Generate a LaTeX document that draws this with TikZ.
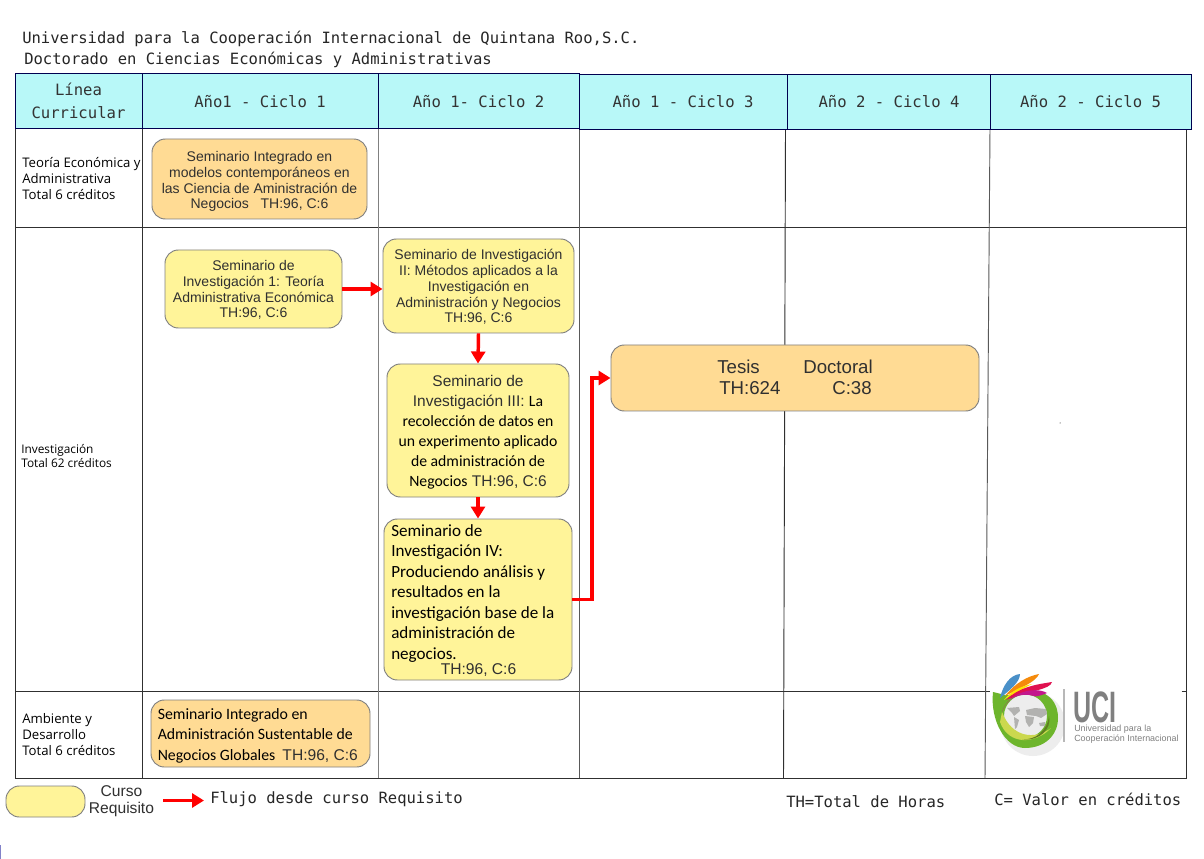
\documentclass[tikz,border=0pt]{standalone}
\usepackage{fontspec}
\setmainfont{Liberation Sans}
\newfontfamily\cali{Carlito}
\newfontfamily\mono{DejaVu Sans Mono}
\newfontfamily\luci{Open Sans}
\usetikzlibrary{arrows.meta}
\definecolor{hdr}{HTML}{B8F8F8}
\definecolor{navy}{HTML}{000050}
\definecolor{yel}{HTML}{FFF499}
\definecolor{ora}{HTML}{FFDB94}
\definecolor{edge}{HTML}{808080}
\definecolor{grid}{HTML}{303030}
\definecolor{txt}{HTML}{303030}
\definecolor{leaf}{HTML}{6DB52C}
\definecolor{lime}{HTML}{CBD84E}
\definecolor{olive}{HTML}{5F7F20}
\definecolor{fblue}{HTML}{4A90C8}
\definecolor{forange}{HTML}{F58A0B}
\definecolor{fred}{HTML}{E0104F}
\definecolor{fmag}{HTML}{C2188C}
\definecolor{mapg}{HTML}{B2B2B0}
\tikzset{
 x=0.75pt,y=-0.75pt,
 hcell/.style={draw=navy,fill=hdr,line width=0.75pt,inner sep=0pt,align=center,text=black!80,font=\mono\fontsize{11.7}{17}\selectfont},
 course/.style={draw=edge,line width=0.7pt,rounded corners=10pt,inner sep=0pt,align=center,text=txt,font=\fontsize{10.5}{11.8}\selectfont},
 gridline/.style={draw=grid,line width=0.7pt},
 flow/.style={draw=red,line width=2.6pt,-{Triangle[length=9pt,width=10.5pt]}},
 rowlabel/.style={inner sep=0pt,anchor=north west,align=left,text=black,font=\luci\fontsize{9.9}{11.9}\selectfont},
 monotext/.style={inner sep=0pt,anchor=west,text=black!85,font=\mono\fontsize{11.65}{14}\selectfont},
}
\newcommand{\cc}{\cali\fontsize{11.8}{15}\selectfont\color{black}}
\newcommand{\dn}[1]{\rule{0pt}{#1pt}}
\begin{document}
\begin{tikzpicture}
\useasboundingbox (0,0) rectangle (1204,859);
\fill[white] (0,0) rectangle (1204,859);
% titles
\node[monotext] (t1) at (22,38.5) {Universidad para la Cooperación Internacional de Quintana Roo,S.C.};
\node[monotext] (t2) at (24,60) {Doctorado en Ciencias Económicas y Administrativas};
% grid
\draw[gridline] (15,129) -- (15,778) -- (1186,778) -- (1186,129);
\draw[gridline] (15,227.5) -- (1186,227.5);
\draw[gridline] (15,691.5) -- (1186,691.5);
\draw[gridline] (142,129) -- (142,778);
\draw[gridline,edge] (378,129) -- (378,778);
\draw[gridline,black!65] (579,129) -- (579,778);
\draw[gridline] (785.5,129) -- (783.5,778);
\draw[gridline,black!65] (990,129) -- (985,778);
% header
\node[hcell,minimum width=127pt*0.75,minimum height=55pt*0.75] (h0) at (78.5,101) {Línea\\Curricular};
\node[hcell,minimum width=236pt*0.75,minimum height=55pt*0.75] (h1) at (260,101.5) {Año1 - Ciclo 1};
\node[hcell,minimum width=201pt*0.75,minimum height=55pt*0.75] (h2) at (478.5,101.5) {Año 1- Ciclo 2};
\node[hcell,minimum width=208pt*0.75,minimum height=55pt*0.75] (h3) at (683,102) {Año 1 - Ciclo 3};
\node[hcell,minimum width=203pt*0.75,minimum height=55pt*0.75] (h4) at (889,102) {Año 2 - Ciclo 4};
\node[hcell,minimum width=201pt*0.75,minimum height=55pt*0.75] (h5) at (1090.5,102) {Año 2 - Ciclo 5};
% row labels
\node[rowlabel] (r1) at (22,157.5) {Teoría Económica y\\Administrativa\\Total 6 créditos};
\node[rowlabel,font=\luci\fontsize{8.9}{10.4}\selectfont] (r2) at (21,444.5) {Investigación\\Total 62 créditos};
\node[rowlabel] (r3) at (22,713.5) {Ambiente y\\Desarrollo\\Total 6 créditos};
% courses
\node[course,fill=ora,minimum width=161.25pt,minimum height=60pt] (c1) at (259.5,179)
 {\dn{11.4}Seminario Integrado en\\modelos contemporáneos en\\las Ciencia de Aministración de\\Negocios\ \ \ TH:96, C:6};
\node[course,fill=yel,minimum width=132.75pt,minimum height=58.5pt] (y1) at (253.5,289)
 {\dn{9.4}Seminario de\\Investigación 1: Teoría\\Administrativa Económica\\TH:96, C:6};
\node[course,fill=yel,minimum width=143.25pt,minimum height=70.5pt] (y2) at (478.5,286)
 {\dn{9.4}Seminario de Investigación\\II: Métodos aplicados a la\\Investigación en\\Administración y Negocios\\TH:96, C:6};
\node[course,fill=yel,minimum width=136.5pt,minimum height=99.75pt,font=\fontsize{11.6}{15}\selectfont] (y3) at (478,430.5)
 {\dn{11.4}Seminario de\\Investigación III: {\cc La}\\{\cc recolección de datos en}\\{\cc un experimento aplicado}\\{\cc de administración de}\\{\cc Negocios} TH:96, C:6};
\node[course,fill=yel,minimum width=141pt,minimum height=120.75pt] (y4) at (478,599.5) {};
\node[inner sep=0pt,anchor=north west,align=left,text=black,font=\cali\fontsize{12.8}{15.4}\selectfont] (y4t) at (391,524)
 {Seminario de\\Investigación IV:\\Produciendo análisis y\\resultados en la\\investigación base de la\\administración de\\negocios.};
\node[inner sep=0pt,text=txt,font=\fontsize{11.7}{12}\selectfont] (y4h) at (478.5,670) {TH:96, C:6};
\node[course,fill=ora,minimum width=276pt,minimum height=49.5pt] (th) at (795,378) {};
\node[inner sep=0pt,text=txt,font=\fontsize{14}{15}\selectfont,anchor=base west] (th1) at (717,374) {Tesis};
\node[inner sep=0pt,text=txt,font=\fontsize{14}{15}\selectfont,anchor=base west] (th2) at (803,374) {Doctoral};
\node[inner sep=0pt,text=txt,font=\fontsize{14}{15}\selectfont,anchor=base west] (th3) at (719,395) {TH:624};
\node[inner sep=0pt,text=txt,font=\fontsize{14}{15}\selectfont,anchor=base west] (th4) at (832,395) {C:38};
\node[course,fill=ora,minimum width=164.25pt,minimum height=50.25pt] (c2) at (260.5,733.5) {};
\node[inner sep=0pt,anchor=north west,align=left,text=black,font=\cali\fontsize{11.85}{15.5}\selectfont] (c2t) at (157.5,708)
 {Seminario Integrado en\\Administración Sustentable de\\Negocios Globales\ \ {\rmfamily\color{txt}\fontsize{11.7}{15.5}\selectfont TH:96, C:6}};
% connectors
\coordinate (y2in) at (y1.east -| y2.west);
\coordinate (bend) at (592,599.5);
\draw[flow] (y1.east) -- (y2in);
\draw[flow] (y2.south) -- (y3.north);
\draw[flow] (y3.south) -- (y4.north);
\draw[flow] (y4.east) -- (bend) |- (th.west);
% legend
\node[course,fill=yel,minimum width=59.25pt,minimum height=23.25pt] (lg) at (45.5,801.5) {};
\node[inner sep=0pt,align=center,text=txt,font=\fontsize{11.7}{12.8}\selectfont] (lgt) at (121.5,801.5) {Curso\\Requisito};
\coordinate (fa) at (163,800.5);
\coordinate (fb) at (204,800.5);
\draw[flow] (fa) -- (fb);
\node[monotext] (l1) at (210,799.5) {Flujo desde curso Requisito};
\node[monotext] (l2) at (786,801.5) {TH=Total de Horas};
\node[monotext] (l3) at (994,799.5) {C= Valor en créditos};
% logo
\fill[white] (990,648) rectangle (1181.5,775);
\draw[gridline] (1181.5,691.5) -- (1186,691.5);
\fill[black!14] (1031,722) circle (31);
\fill[black!7] (1033,724) circle (32);
% ring
\fill[leaf,even odd rule] (993,692) .. controls (990,720) and (1005,748) .. (1025,748) .. controls (1045,748) and (1058,735) .. (1058,718) .. controls (1058,705) and (1052,698) .. (1045,694) -- (1005,695) -- cycle (1025.5,716) circle (21.5);
\fill[lime] (1000,722) .. controls (1008,745) and (1035,745) .. (1051,728) .. controls (1035,740) and (1012,738) .. (1002,712) -- cycle;
\fill[olive] (1022,739) .. controls (1035,741) and (1048,730) .. (1049,716) .. controls (1052,728) and (1040,742) .. (1022,739) -- cycle;
% feathers
\fill[fblue] (1000,698) .. controls (1003,685) and (1010,675) .. (1020,674) .. controls (1020,682) and (1010,690) .. (1000,698) -- cycle;
\fill[forange] (1005,696) .. controls (1015,683) and (1028,676) .. (1039,674) .. controls (1036,682) and (1020,688) .. (1005,696) -- cycle;
\fill[yellow!85!orange] (1004,700) .. controls (1012,690) and (1022,686) .. (1032,684) -- (1010,696) -- cycle;
\fill[fred] (1006,700) .. controls (1020,686) and (1040,684) .. (1052,682) .. controls (1050,690) and (1030,690) .. (1006,700) -- cycle;
\fill[fmag] (1002,712) .. controls (1008,692) and (1035,686) .. (1047,693) .. controls (1040,696) and (1035,697) .. (1034,696) .. controls (1020,692) and (1006,698) .. (1002,712) -- cycle;
% map
\fill[mapg] (1007,708) -- (1019,707) -- (1020,711) -- (1014,716) -- (1012,713) -- cycle;
\fill[mapg] (1014,717) -- (1019,720) -- (1017,727) -- (1015,729) -- cycle;
\fill[mapg] (1026,710) -- (1035,708) -- (1046,709) -- (1047,714) -- (1041,718) -- (1036,716) -- (1027,715) -- cycle;
\fill[mapg] (1025,716) -- (1034,717) -- (1033,723) -- (1029,727) -- (1026,722) -- cycle;
\fill[mapg] (1039,723) -- (1045,722) -- (1045,726) -- (1040,726) -- cycle;
\draw[black!28,line width=1pt] (1064,689) -- (1064,742);
\node[inner sep=0pt,anchor=base west,text=black!50,font=\bfseries\fontsize{33}{33}\selectfont] (uci) at (1073,722) {\scalebox{0.57}[1]{UCI}};
\node[inner sep=0pt,anchor=north west,align=left,text=black!50,font=\fontsize{6.7}{7.2}\selectfont] (uci2) at (1074,725) {Universidad para la\\Cooperación Internacional};
% marks
\fill[black] (1060,423) circle (0.5);
\fill[blue!40!gray!70] (0,845) rectangle (1.5,859);
\end{tikzpicture}
\end{document}
